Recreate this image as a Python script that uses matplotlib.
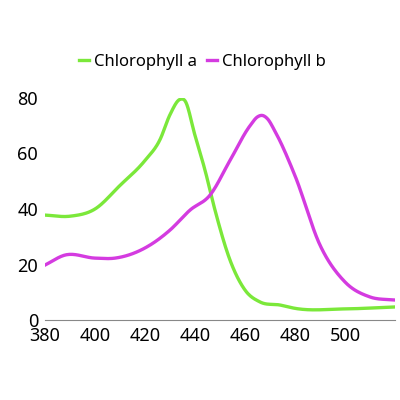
import matplotlib
matplotlib.use("Agg")
import matplotlib.pyplot as plt
import numpy as np

wl_a = [380, 390, 400, 410, 420, 426, 430, 434, 436, 440, 444, 448, 454, 460, 466, 474, 480, 500, 520]
chl_a = [37.8, 37.4, 40, 48.5, 57.5, 65, 74, 79.5, 79, 66.5, 54, 39.6, 21.6, 10.8, 6.5, 5.4, 4.2, 4.0, 4.7]
wl_b = [380, 388, 400, 408, 422, 430, 438, 446, 454, 462, 465, 467, 469, 472, 480, 490, 500, 510, 520]
chl_b = [19.8, 23.4, 22.3, 22.3, 27, 32.4, 39.6, 45, 57.5, 70, 73.2, 73.7, 72.5, 68, 52, 27, 13.7, 8.3, 7.2]
xticks = [380, 400, 420, 440, 460, 480, 500]
yticks = [0, 20, 40, 60, 80]


def smooth(x, y, n=20):
    # Catmull-Rom style cubic Hermite for rendering smooth curves through the points
    x = np.asarray(x, float); y = np.asarray(y, float)
    m = np.gradient(y, x)
    xs, ys = [], []
    for i in range(len(x) - 1):
        h = x[i + 1] - x[i]
        t = np.linspace(0, 1, n, endpoint=False)
        h00 = 2*t**3 - 3*t**2 + 1; h10 = t**3 - 2*t**2 + t
        h01 = -2*t**3 + 3*t**2; h11 = t**3 - t**2
        xs.append(x[i] + t*h)
        ys.append(h00*y[i] + h10*h*m[i] + h01*y[i+1] + h11*h*m[i+1])
    xs.append([x[-1]]); ys.append([y[-1]])
    return np.concatenate(xs), np.concatenate(ys)


plt.rcParams['font.family'] = ['Noto Sans', 'DejaVu Sans']
fig = plt.figure(figsize=(4, 4), dpi=100)
ax = fig.add_axes([0.1125, 0.2, 0.875, 0.555])
ax.plot(*smooth(wl_a, chl_a), color='#7be83a', lw=2.4, label='Chlorophyll a')
ax.plot(*smooth(wl_b, chl_b), color='#d43be0', lw=2.4, label='Chlorophyll b')
ax.set_xlim(380, 520)
ax.set_ylim(0, 80)
ax.set_xticks(xticks)
ax.set_yticks(yticks)
ax.tick_params(length=0, labelsize=13, pad=5)
for t in ax.get_xticklabels() + ax.get_yticklabels():
    t.set_fontweight('bold')
for s in ['top', 'right', 'left']:
    ax.spines[s].set_visible(False)
ax.spines['bottom'].set_color('#888888')
ax.legend(loc='lower center', bbox_to_anchor=(0.45, 1.06), ncol=2, frameon=False,
          handlelength=0.6, handletextpad=0.3, columnspacing=0.6,
          prop={'weight': 'bold', 'size': 12})
fig.savefig('out.png', dpi=100)
